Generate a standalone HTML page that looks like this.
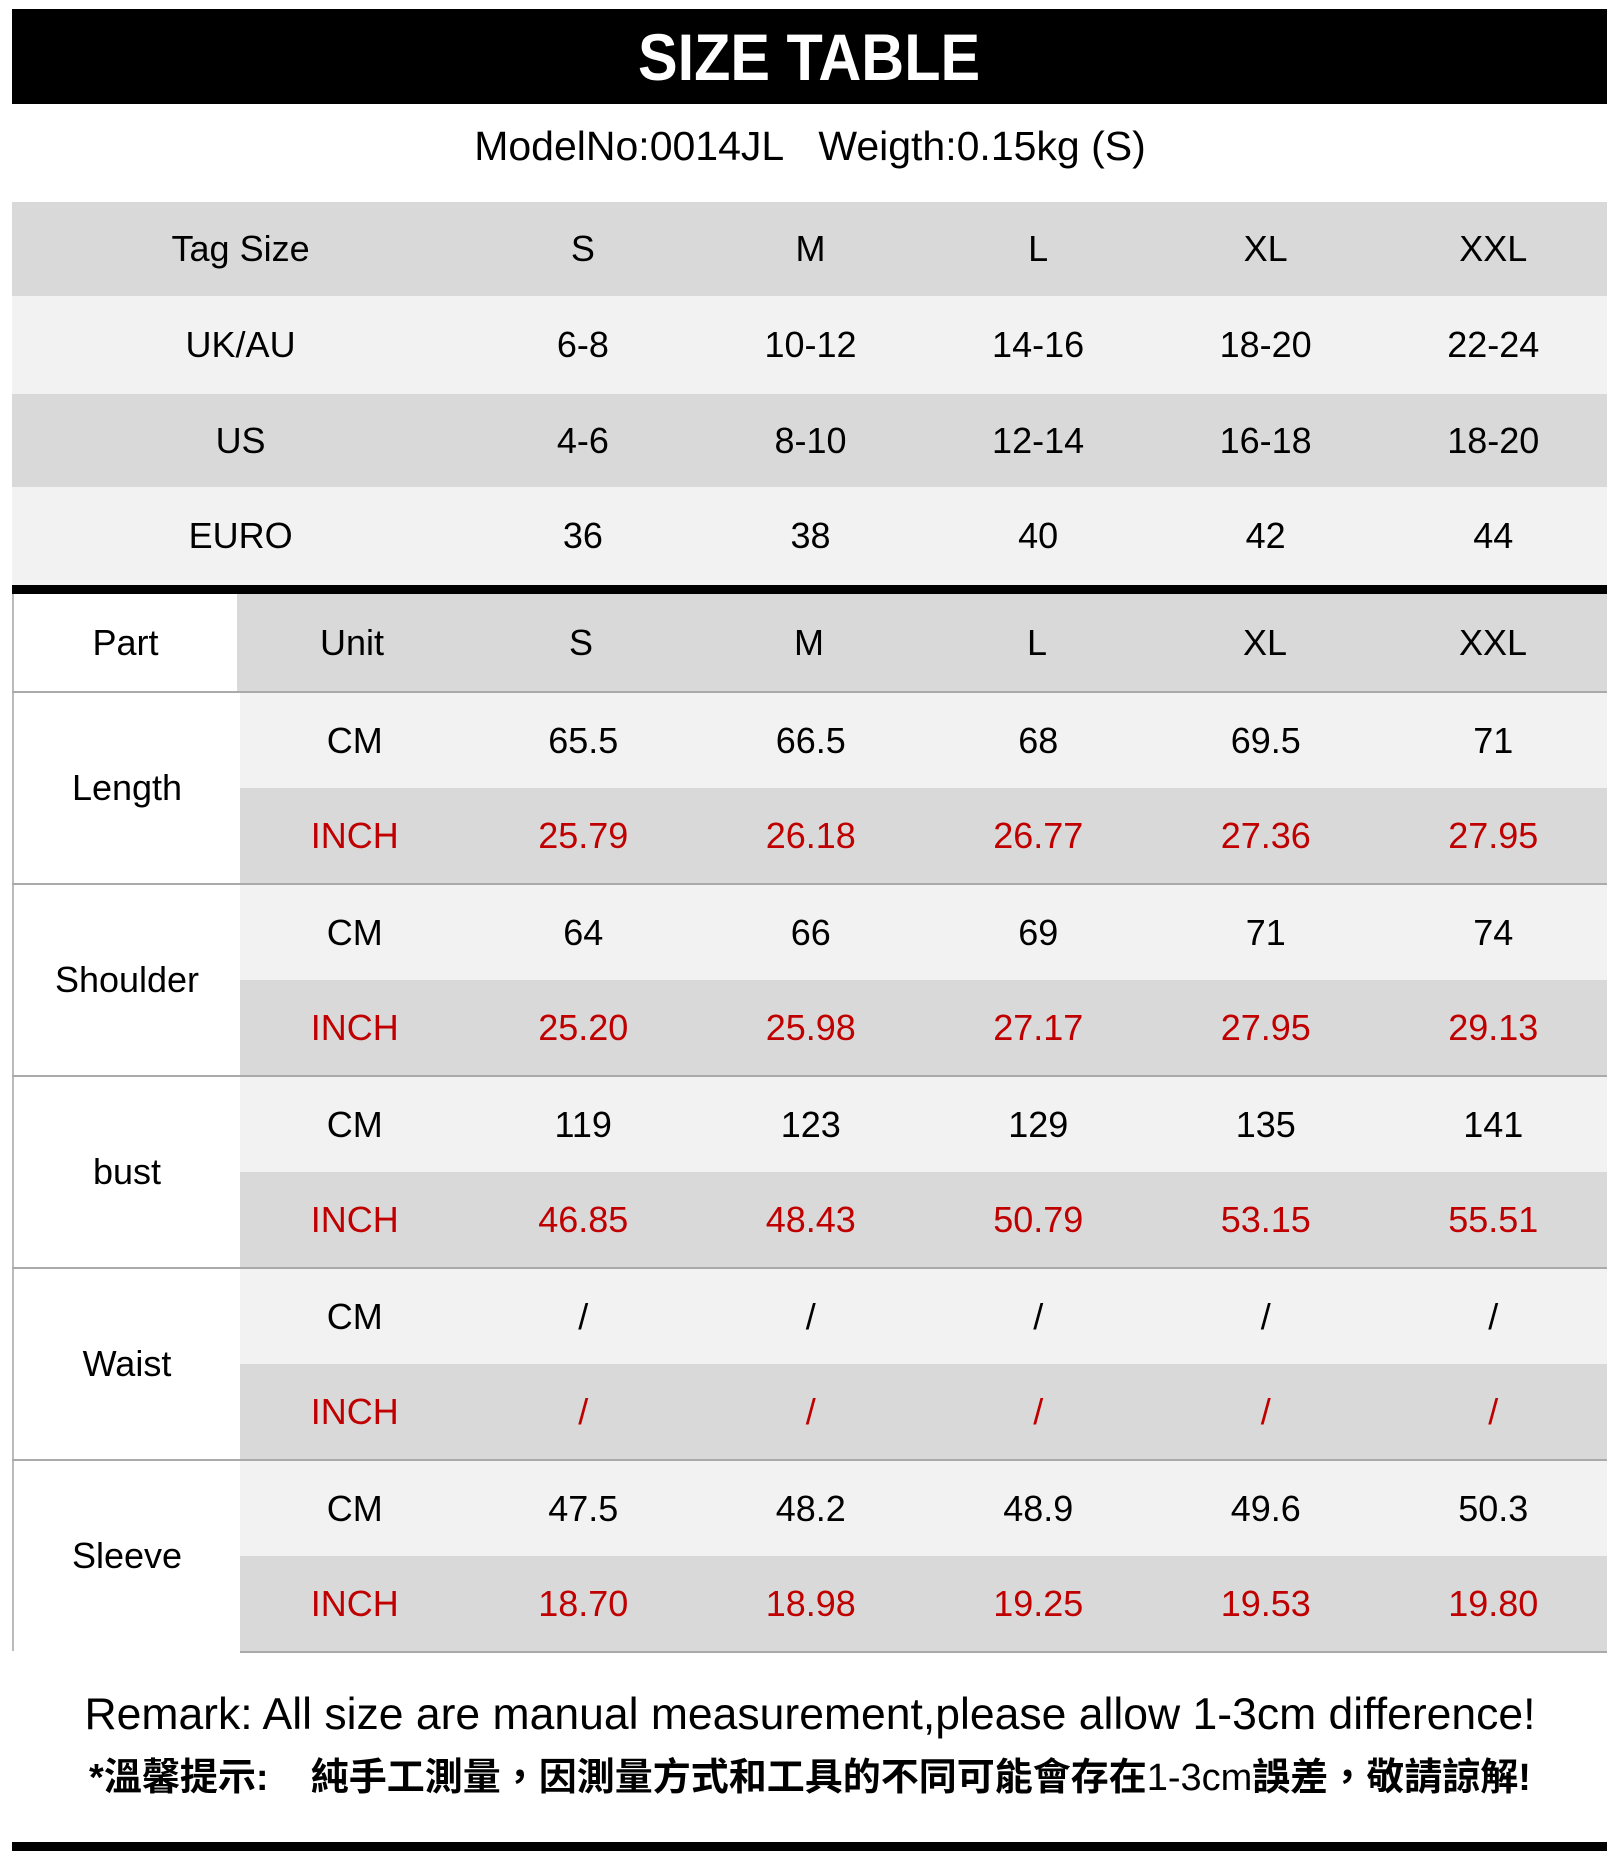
<!DOCTYPE html>
<html><head><meta charset="utf-8"><style>
*{margin:0;padding:0;box-sizing:border-box}
body{width:1620px;height:1862px;background:#fff;position:relative;overflow:hidden;font-family:"Liberation Sans","Noto Sans CJK TC",sans-serif;color:#000}
.a{position:absolute}
.r{position:absolute;left:12px;width:1595px;display:flex}
.c{display:flex;align-items:center;justify-content:center;font-size:36px;height:100%}
.red{color:#c00000}
</style></head><body>
<div class="a" style="left:12px;top:9px;width:1595px;height:95px;background:#000;color:#fff;font-weight:bold;font-size:66px;display:flex;align-items:center;justify-content:center"><span style="display:inline-block;transform:scaleX(0.9)">SIZE TABLE</span></div>
<div class="a" style="left:0;top:123px;width:1620px;text-align:center;font-size:41px;line-height:46px">ModelNo:0014JL&nbsp;&nbsp;&nbsp;Weigth:0.15kg (S)</div>

<div class="r" style="top:202px;height:94px;background:#d9d9d9"><div class="c" style="width:458px">Tag Size</div><div class="c" style="width:228px">S</div><div class="c" style="width:228px">M</div><div class="c" style="width:228px">L</div><div class="c" style="width:228px">XL</div><div class="c" style="width:228px">XXL</div></div>
<div class="r" style="top:296px;height:98px;background:#f2f2f2"><div class="c" style="width:458px">UK/AU</div><div class="c" style="width:228px">6-8</div><div class="c" style="width:228px">10-12</div><div class="c" style="width:228px">14-16</div><div class="c" style="width:228px">18-20</div><div class="c" style="width:228px">22-24</div></div>
<div class="r" style="top:394px;height:93px;background:#d9d9d9"><div class="c" style="width:458px">US</div><div class="c" style="width:228px">4-6</div><div class="c" style="width:228px">8-10</div><div class="c" style="width:228px">12-14</div><div class="c" style="width:228px">16-18</div><div class="c" style="width:228px">18-20</div></div>
<div class="r" style="top:487px;height:98px;background:#f2f2f2"><div class="c" style="width:458px">EURO</div><div class="c" style="width:228px">36</div><div class="c" style="width:228px">38</div><div class="c" style="width:228px">40</div><div class="c" style="width:228px">42</div><div class="c" style="width:228px">44</div></div>
<div class="a" style="left:12px;top:585px;width:1595px;height:9px;background:#000"></div>

<div class="r" style="top:594px;height:97px"><div class="c" style="width:228px;background:#fff;border-left:2px solid #bbb">Part</div><div style="display:flex;flex:1;background:#d9d9d9"><div class="c" style="width:230px">Unit</div><div class="c" style="width:228px">S</div><div class="c" style="width:228px">M</div><div class="c" style="width:228px">L</div><div class="c" style="width:228px">XL</div><div class="c" style="width:228px">XXL</div></div></div>

<div id="g"></div>
<script>
var data=[["Length",["65.5","66.5","68","69.5","71"],["25.79","26.18","26.77","27.36","27.95"]],
["Shoulder",["64","66","69","71","74"],["25.20","25.98","27.17","27.95","29.13"]],
["bust",["119","123","129","135","141"],["46.85","48.43","50.79","53.15","55.51"]],
["Waist",["/","/","/","/","/"],["/","/","/","/","/"]],
["Sleeve",["47.5","48.2","48.9","49.6","50.3"],["18.70","18.98","19.25","19.53","19.80"]]];
var h="";
data.forEach(function(d,i){
 var t=691+i*192;
 h+='<div class="a" style="left:12px;top:'+t+'px;width:1595px;height:2px;background:#aaa"></div>';
 h+='<div class="a c" style="left:12px;top:'+(t+2)+'px;width:228px;height:190px;border-left:2px solid #bbb">'+d[0]+'</div>';
 h+='<div class="a" style="left:240px;top:'+(t+2)+'px;width:1367px;height:95px;background:#f2f2f2;display:flex"><div class="c" style="width:230px">CM</div>';
 d[1].forEach(function(v){h+='<div class="c" style="width:228px">'+v+'</div>'});
 h+='</div><div class="a red" style="left:240px;top:'+(t+97)+'px;width:1367px;height:95px;background:#d9d9d9;display:flex"><div class="c" style="width:230px">INCH</div>';
 d[2].forEach(function(v){h+='<div class="c" style="width:228px">'+v+'</div>'});
 h+='</div>';
});
h+='<div class="a" style="left:240px;top:1651px;width:1367px;height:2px;background:#aaa"></div>';
document.getElementById("g").innerHTML=h;
</script>

<div class="a" style="left:0;top:1689px;width:1620px;text-align:center;font-size:44.5px;line-height:52px">Remark: All size are manual measurement,please allow 1-3cm difference!</div>
<div class="a" style="left:0;top:1755px;width:1620px;text-align:center;font-size:38px;line-height:46px;font-weight:bold">*溫馨提示:&nbsp;&nbsp;&nbsp;&nbsp;純手工測量，因測量方式和工具的不同可能會存在<span style="font-weight:normal">1-3cm</span>誤差，敬請諒解!</div>
<div class="a" style="left:12px;top:1842px;width:1595px;height:9px;background:#000"></div>
</body></html>
